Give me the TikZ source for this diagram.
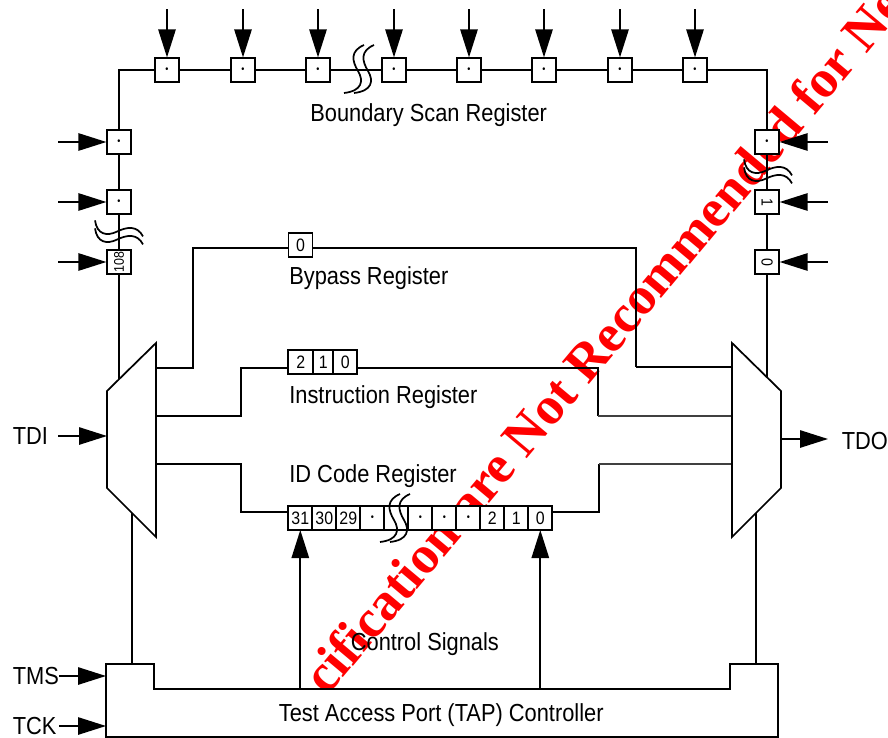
\documentclass[tikz,border=0pt]{standalone}
\usepackage{fontspec}
\setmainfont[FakeStretch=0.885]{Liberation Sans}
\newfontfamily\markfont{Liberation Serif}
\usepackage{tikz}
\usetikzlibrary{positioning,arrows.meta}
\tikzstyle{cell} = [draw, fill=white, rectangle, minimum size=17.6pt, inner sep=0pt,
    font=\fontsize{12}{12}\selectfont]
\tikzstyle{bit} = [draw, fill=white, rectangle, minimum size=18pt, inner sep=0pt, outer sep=0pt,
    font=\fontsize{13.5}{14}\selectfont]
\tikzstyle{input} = [coordinate]
\tikzstyle{output} = [coordinate]
\tikzstyle{caption} = [anchor=mid west, inner sep=0pt, font=\fontsize{18.5}{20}\selectfont]
\tikzstyle{thinwire} = [line width=0.8pt, black!75]
\newcommand{\celldot}{{\fontsize{7.5}{7.5}\selectfont\textbullet}}
\tikzset{squig/.pic={
    \draw [line width=1.3pt] (-17,24) .. controls (1,22) and (3,12) .. (-3,2)
        .. controls (-9,-8) and (-11,-18) .. (3,-24);
    \draw [line width=1.3pt] (-7,24) .. controls (11,22) and (13,12) .. (7,2)
        .. controls (1,-8) and (-1,-18) .. (13,-24);
}}

\begin{document}
\begin{tikzpicture}[x=0.75pt, y=-0.75pt, auto, node distance=36pt, line width=1.3pt,
    >={Triangle[length=21pt,width=13pt]}]
	  \useasboundingbox (0,0) rectangle (888,738);
	  % watermark goes under everything
	  \begin{scope}
	  \clip (0,0) rectangle (888,738);
	  \node [red, anchor=base west, inner sep=0pt, rotate=50,
	      font=\markfont\bfseries\fontsize{40}{40}\selectfont] (stamp) at (326.8,697.4)
	      {cification are Not Recommended for Ne};
	  \end{scope}
	  % boundary scan chain
	  \node [cell] (top1) at (167,70) {\celldot};
	  \node [cell] (top2) at (243,70) {\celldot};
	  \node [cell] (top3) at (318,70) {\celldot};
	  \node [cell] (top4) at (394,70) {\celldot};
	  \node [cell] (top5) at (469,70) {\celldot};
	  \node [cell] (top6) at (544,70) {\celldot};
	  \node [cell] (top7) at (620,70) {\celldot};
	  \node [cell] (top8) at (695,70) {\celldot};
	  \node [cell] (left1) at (119,142) {\celldot};
	  \node [cell] (left2) at (119,202) {\celldot};
	  \node [cell, font=\fontsize{10.5}{11}\selectfont] (left3) at (119,262) {\rotatebox{90}{108}};
	  \node [cell] (right1) at (767,142) {\celldot};
	  \node [cell] (right2) at (767,202) {\rotatebox{-90}{1}};
	  \node [cell] (right3) at (767,262) {\rotatebox{-90}{0}};
	  \node [input, above=of top1] (intop1) {};
	  \node [input, above=of top2] (intop2) {};
	  \node [input, above=of top3] (intop3) {};
	  \node [input, above=of top4] (intop4) {};
	  \node [input, above=of top5] (intop5) {};
	  \node [input, above=of top6] (intop6) {};
	  \node [input, above=of top7] (intop7) {};
	  \node [input, above=of top8] (intop8) {};
	  \node [input, left=of left1] (inleft1) {};
	  \node [input, left=of left2] (inleft2) {};
	  \node [input, left=of left3] (inleft3) {};
	  \node [input, right=of right1] (inright1) {};
	  \node [input, right=of right2] (inright2) {};
	  \node [input, right=of right3] (inright3) {};
	  \draw (top1) -- (top2);
	  \draw (top2) -- (top3);
	  \draw (top3) -- (top4);
	  \draw (top4) -- (top5);
	  \draw (top5) -- (top6);
	  \draw (top6) -- (top7);
	  \draw (top7) -- (top8);
	  \draw (left1) |- (top1);
	  \draw (right1) |- (top8);
	  \draw (left1) -- (left2);
	  \draw (left2) -- (left3);
	  \draw (right1) -- (right2);
	  \draw (right2) -- (right3);
	  \draw [->] (intop1) -- (top1);
	  \draw [->] (intop2) -- (top2);
	  \draw [->] (intop3) -- (top3);
	  \draw [->] (intop4) -- (top4);
	  \draw [->] (intop5) -- (top5);
	  \draw [->] (intop6) -- (top6);
	  \draw [->] (intop7) -- (top7);
	  \draw [->] (intop8) -- (top8);
	  \draw [->] (inleft1) -- (left1);
	  \draw [->] (inleft2) -- (left2);
	  \draw [->] (inleft3) -- (left3);
	  \draw [->] (inright1) -- (right1);
	  \draw [->] (inright2) -- (right2);
	  \draw [->] (inright3) -- (right3);
	  \pic at (361,69) {squig};
	  \pic [rotate=-90, xscale=0.8] at (119,234) {squig};
	  \pic [rotate=-90, xscale=0.8] at (768,173) {squig};
	  \node [caption] (bsrname) at (309.5,118) {Boundary Scan Register};
	  % bypass and instruction registers
	  \node [bit] (by0) at (300.5,245) {0};
	  \node [bit, minimum width=18.75pt] (ir2) at (300.8,362) {2};
	  \node [bit, minimum width=15pt, right=0pt of ir2] (ir1) {1};
	  \node [bit, right=0pt of ir1] (ir0) {0};
	  \node [caption] (byname) at (288.5,281) {Bypass Register};
	  \node [caption] (irname) at (288.5,400) {Instruction Register};
	  \node [caption] (idname) at (288.5,479) {ID Code Register};
	  % id code register
	  \node [bit] (id31) at (300.3,518) {31};
	  \node [bit, right=0pt of id31] (id30) {30};
	  \node [bit, right=0pt of id30] (id29) {29};
	  \node [bit, right=0pt of id29] (idd1) {\celldot};
	  \node [bit, right=0pt of idd1] (idgap) {};
	  \node [bit, right=0pt of idgap] (idd2) {\celldot};
	  \node [bit, right=0pt of idd2] (idd3) {\celldot};
	  \node [bit, right=0pt of idd3] (idd4) {\celldot};
	  \node [bit, right=0pt of idd4] (id2) {2};
	  \node [bit, right=0pt of id2] (id1) {1};
	  \node [bit, right=0pt of id1] (id0) {0};
	  \pic at (397,518) {squig};
	  % mux ports and wires
	  \coordinate (ml1) at (156,368);
	  \coordinate (ml2) at (156,416);
	  \coordinate (ml3) at (156,464);
	  \coordinate (mr1) at (732,367);
	  \coordinate (mr2) at (732,416);
	  \coordinate (mr3) at (732,464);
	  \coordinate (byin) at (by0.west |- 0,248);
	  \coordinate (byout) at (by0.east |- 0,248);
	  \coordinate (irin) at (ir2.west |- 0,368);
	  \coordinate (irout) at (ir0.east |- 0,368);
	  \coordinate (idin) at (id31.west |- 0,512);
	  \coordinate (idout) at (id0.east |- 0,512);
	  \coordinate (byturn) at (636,367);
	  \coordinate (irturn) at (598,416);
	  \coordinate (idturn) at (599,464);
	  \draw (ml1) -- ++(37,0) |- (byin);
	  \draw (byout) -| (byturn);
	  \draw (byturn) -- (mr1);
	  \draw (ml2) -- ++(85,0) |- (irin);
	  \draw (irout) -| (irturn);
	  \draw [thinwire] (irturn) -- (mr2);
	  \draw (ml3) -- ++(85,0) |- (idin);
	  \draw (idout) -| (idturn);
	  \draw [thinwire] (idturn) -- (mr3);
	  \draw (left3) -- (119,385);
	  \draw (right3) -- (767,385);
	  \draw (132,664) -- (132,510);
	  \draw (756,664) -- (756,510);
	  % the two muxes
	  \coordinate (muxlin) at (107,436);
	  \coordinate (muxrout) at (781,439);
	  \draw [fill=white] (107,391) -- (156,343) -- (156,537) -- (107,488) -- cycle;
	  \draw [fill=white] (732,343) -- (781,391) -- (781,488) -- (732,537) -- cycle;
	  \node [input] (intdi) at (58,436) {};
	  \node [output] (outtdo) at (828,439) {};
	  \draw [->] (intdi) -- (muxlin);
	  \draw [->] (muxrout) -- (outtdo);
	  \node [caption] (tdiname) at (12,441) {TDI};
	  \node [caption] (tdoname) at (841,446) {TDO};
	  % tap controller
	  \coordinate (tapms) at (106,676);
	  \coordinate (tapck) at (106,726);
	  \coordinate (ctl1) at (id31.south |- 0,689);
	  \coordinate (ctl2) at (id0.south |- 0,689);
	  \draw [fill=white] (106,664) -- (154,664) -- (154,689) -- (730,689) -- (730,664)
	      -- (778,664) -- (778,737) -- (106,737) -- cycle;
	  \node [input] (intms) at (59,676) {};
	  \node [input] (intck) at (59,726) {};
	  \draw [->] (intms) -- (tapms);
	  \draw [->] (intck) -- (tapck);
	  \draw [->] (ctl1) -- (id31.south);
	  \draw [->] (ctl2) -- (id0.south);
	  \node [caption] (tmsname) at (12,681) {TMS};
	  \node [caption] (tckname) at (12,731) {TCK};
	  \node [caption] (ctlname) at (350,647) {Control Signals};
	  \node [caption] (tapname) at (278,718) {Test Access Port (TAP) Controller};
	\end{tikzpicture}
\end{document}
